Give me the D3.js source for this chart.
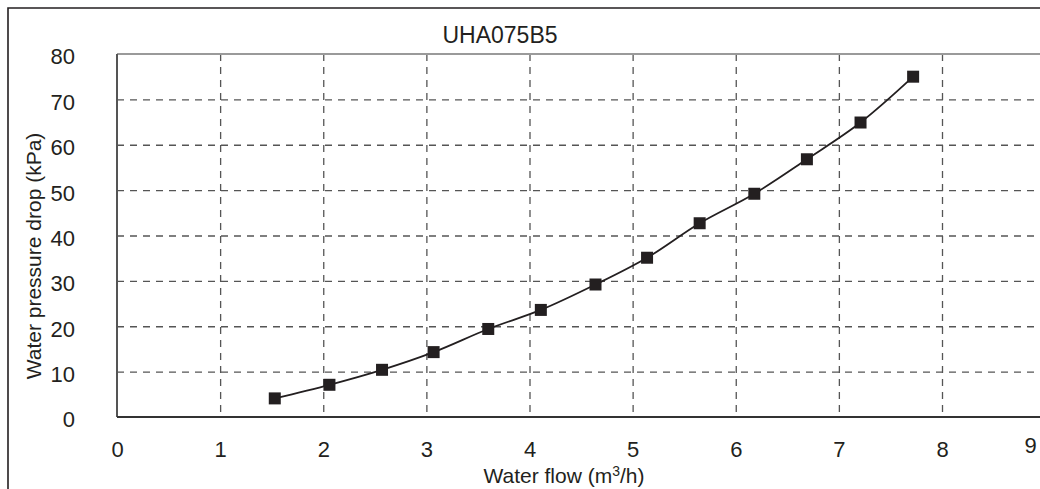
<!DOCTYPE html>
<html>
<head>
<meta charset="utf-8">
<script src="https://cdn.jsdelivr.net/npm/d3@7"></script>
<style>
  body { margin: 0; background: #fff; }
  svg { display: block; font-family: "Liberation Sans", Arial, sans-serif; }
  .grid line { stroke: #555; stroke-width: 1.3; stroke-dasharray: 7,6; }
  .grid path { display: none; }
  .ticks path, .ticks line { display: none; }
  .ticks text { fill: #231f20; font-size: 22px; }
</style>
</head>
<body>
<div id="chart"></div>
<script>
// chart data
const title = "UHA075B5"
const flow = [1.53, 2.06, 2.57, 3.07, 3.60, 4.11, 4.64, 5.14, 5.65, 6.18, 6.69, 7.21, 7.72]
const pressureDrop = [4.1, 7.1, 10.4, 14.3, 19.4, 23.6, 29.2, 35.1, 42.7, 49.2, 56.8, 64.9, 75.0]
const xTicks = [0, 1, 2, 3, 4, 5, 6, 7, 8, 9]
const yTicks = [0, 10, 20, 30, 40, 50, 60, 70, 80]

const svgWidth = 1040
const svgHeight = 489

let margin = { top: 54, left: 117, bottom: 72 }
let plotBottom = svgHeight - margin.bottom   // 417
let plotRight = svgWidth

let svg = d3.select("#chart")
  .append("svg")
  .attr("width", svgWidth)
  .attr("height", svgHeight)

let xScale = d3.scaleLinear()
  .domain([0, 9])
  .range([margin.left, margin.left + 9 * 103.125])

let yScale = d3.scaleLinear()
  .domain([0, 80])
  .range([plotBottom, margin.top])

// outer frame (cut off by the image on the right and bottom)
svg.append("path")
  .attr("d", `M8,${svgHeight} L8,8 L${svgWidth},8`)
  .attr("fill", "none")
  .attr("stroke", "#231f20")
  .attr("stroke-width", 1.6)

// grid lines
svg.append("g")
  .attr("class", "grid")
  .attr("transform", `translate(0, ${margin.top})`)
  .call(d3.axisBottom(xScale).tickValues(xTicks.filter(d => d > 0 && d < 9))
    .tickSize(plotBottom - margin.top).tickFormat(""))

svg.append("g")
  .attr("class", "grid")
  .attr("transform", `translate(${margin.left}, 0)`)
  .call(d3.axisRight(yScale).tickValues(yTicks.filter(d => d > 0 && d < 80))
    .tickSize(plotRight - margin.left).tickFormat(""))

// plot borders
svg.append("line")
  .attr("x1", margin.left).attr("x2", plotRight)
  .attr("y1", margin.top).attr("y2", margin.top)
  .attr("stroke", "#9a9a9a").attr("stroke-width", 2)

svg.append("line")
  .attr("x1", margin.left).attr("x2", margin.left)
  .attr("y1", margin.top).attr("y2", plotBottom)
  .attr("stroke", "#555").attr("stroke-width", 2)

svg.append("line")
  .attr("x1", margin.left).attr("x2", plotRight)
  .attr("y1", plotBottom).attr("y2", plotBottom)
  .attr("stroke", "#333").attr("stroke-width", 2)

// tick labels
let xAxis = svg.append("g")
  .attr("class", "ticks")
  .attr("transform", `translate(0, ${plotBottom})`)
  .call(d3.axisBottom(xScale).tickValues(xTicks).tickSize(0).tickPadding(24))

// last label sits inside the cropped image
xAxis.selectAll(".tick")
  .filter(d => d === 9)
  .select("text")
  .attr("dx", -15)
  .attr("dy", "0.55em")

svg.append("g")
  .attr("class", "ticks")
  .attr("transform", `translate(${margin.left}, 0)`)
  .call(d3.axisLeft(yScale).tickValues(yTicks).tickSize(0).tickPadding(42))
  .selectAll("text")
  .attr("dy", "0.45em")

// title
svg.append("text")
  .attr("x", 500)
  .attr("y", 43)
  .attr("text-anchor", "middle")
  .attr("font-size", 23)
  .attr("fill", "#231f20")
  .text(title)

// axis titles
let xLabel = svg.append("text")
  .attr("x", 564)
  .attr("y", 483)
  .attr("text-anchor", "middle")
  .attr("font-size", 21)
  .attr("fill", "#231f20")
xLabel.append("tspan").text("Water flow (m")
xLabel.append("tspan").attr("font-size", 14).attr("dy", -7).text("3")
xLabel.append("tspan").attr("dy", 7).text("/h)")

svg.append("text")
  .attr("transform", "rotate(-90)")
  .attr("x", -256)
  .attr("y", 41)
  .attr("text-anchor", "middle")
  .attr("font-size", 21)
  .attr("fill", "#231f20")
  .text("Water pressure drop (kPa)")

// data line and markers
let points = flow.map((f, i) => [f, pressureDrop[i]])

svg.append("path")
  .datum(points)
  .attr("fill", "none")
  .attr("stroke", "#231f20")
  .attr("stroke-width", 1.8)
  .attr("d", d3.line()
    .x(d => xScale(d[0]))
    .y(d => yScale(d[1]))
    .curve(d3.curveCatmullRom))

svg.append("g")
  .selectAll("rect")
  .data(points)
  .enter()
  .append("rect")
  .attr("x", d => xScale(d[0]) - 6)
  .attr("y", d => yScale(d[1]) - 6)
  .attr("width", 12)
  .attr("height", 12)
  .attr("fill", "#231f20")
</script>
</body>
</html>
